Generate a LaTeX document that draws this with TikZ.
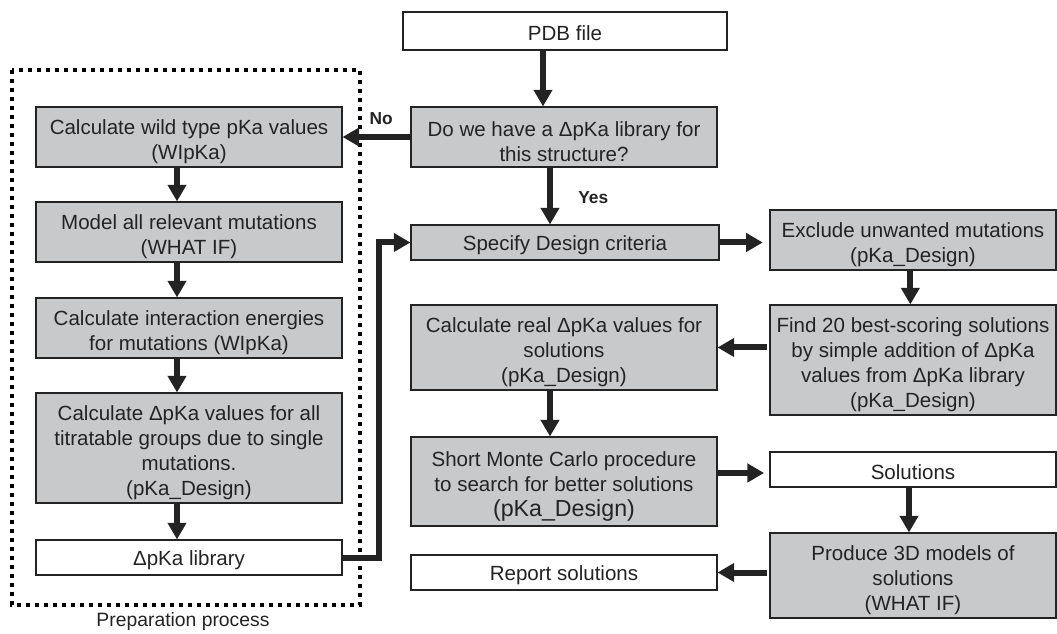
\documentclass[tikz,border=0pt]{standalone}
\usepackage{fontspec}
\setmainfont{Liberation Sans}
\usetikzlibrary{arrows.meta}
\definecolor{boxgray}{RGB}{200,201,203}
\definecolor{inkgray}{RGB}{35,35,35}
\newcommand{\topgap}{\rule{0pt}{18pt}}

\begin{document}
\begin{tikzpicture}[x=0.75pt, y=-0.75pt,
    every node/.style={font=\fontsize{15.4}{18.75}\selectfont, text=inkgray, align=center, inner sep=0pt},
    greybox/.style={draw=inkgray, line width=0.8pt, fill=boxgray},
    whitebox/.style={draw=inkgray, line width=0.8pt, fill=white},
    oneline/.style={execute at begin node={\rule{0pt}{15pt}}},
    wide/.style={minimum width=229.5pt},
    narrow/.style={minimum width=214.5pt},
    flow/.style={-{Triangle[length=12.5pt,width=13.5pt]}, line width=4.5pt, draw=inkgray},
    answer/.style={font=\fontsize{13}{15}\selectfont\bfseries}]
    \useasboundingbox (0,0) rectangle (1057,634);

    % preparation process
    \draw[line width=3pt, dash pattern=on 3pt off 3.75pt] (12,70) rectangle (360,605);
    \node (prep) at (183,622) {\fontsize{14.5}{17}\selectfont Preparation process};

    \node[greybox,wide,minimum height=45pt]   (wild)    at (189,137)   {\topgap Calculate wild type pKa values\\(WIpKa)};
    \node[greybox,wide,minimum height=45pt]   (model)   at (189,232)   {\topgap Model all relevant mutations\\(WHAT IF)};
    \node[greybox,wide,minimum height=45pt]   (inter)   at (189,328)   {\topgap Calculate interaction energies\\for mutations (WIpKa)};
    \node[greybox,wide,minimum height=82.5pt] (dpka)    at (189,448)   {\topgap Calculate ΔpKa values for all\\titratable groups due to single\\mutations.\\(pKa\_Design)};
    \node[whitebox,oneline,wide,minimum height=26.25pt] (library) at (189,557.5) {ΔpKa library};

    % main column
    \node[whitebox,oneline,minimum width=243pt,minimum height=28.5pt] (pdb) at (565,31) {PDB file};
    \node[greybox,wide,minimum height=45pt]   (question) at (564,137)   {\topgap Do we have a ΔpKa library for\\this structure?};
    \node[greybox,oneline,minimum width=231pt,minimum height=26.25pt] (specify) at (565,242.5) {Specify Design criteria};
    \node[greybox,wide,minimum height=63.75pt] (real)    at (564,347.5) {\topgap Calculate real ΔpKa values for\\solutions\\(pKa\_Design)};
    \node[greybox,wide,minimum height=66.75pt] (monte)   at (564,481.5) {\topgap Short Monte Carlo procedure\\to search for better solutions\\{\fontsize{17.4}{20}\selectfont(pKa\_Design)}};
    \node[whitebox,oneline,wide,minimum height=26.25pt] (report) at (564,572.5) {Report solutions};

    % right column
    \node[greybox,narrow,minimum height=45pt]   (exclude)   at (913,240)   {\topgap Exclude unwanted mutations\\(pKa\_Design)};
    \node[greybox,narrow,minimum height=82.5pt] (best)      at (913,360)   {\topgap Find 20 best-scoring solutions\\by simple addition of ΔpKa\\values from ΔpKa library\\(pKa\_Design)};
    \node[whitebox,oneline,narrow,minimum height=26.25pt] (solutions) at (913,469.5) {Solutions};
    \node[greybox,narrow,minimum height=63.75pt] (produce)  at (913,575.5) {\topgap Produce 3D models of\\solutions\\(WHAT IF)};

    \draw[flow] ([xshift=-9pt]wild.south)  -- ([xshift=-9pt]model.north);
    \draw[flow] ([xshift=-9pt]model.south) -- ([xshift=-9pt]inter.north);
    \draw[flow] ([xshift=-9pt]inter.south) -- ([xshift=-9pt]dpka.north);
    \draw[flow] ([xshift=-9pt]dpka.south)  -- ([xshift=-9pt]library.north);

    \draw[flow] ([xshift=-16.5pt]pdb.south) -- ([xshift=-15.75pt]question.north);
    \draw[flow] ([xshift=-10.5pt]question.south) -- ([xshift=-11.25pt]specify.north)
        node[answer, pos=0.53, right=19pt] (yes) {Yes};
    \draw[flow] (question.west) -- (wild.east)
        node[answer, pos=0.43, above=7pt] (no) {No};
    \draw[flow] ([xshift=0.5pt]library.east) -| ++(36,0) |- (specify.west);

    \draw[flow, shorten >=5pt] (specify.east) -- (specify.east -| exclude.west);
    \draw[flow] ([xshift=-2pt]exclude.south) -- ([xshift=-2pt]best.north);
    \draw[flow, shorten <=2pt] (best.west |- real.east) -- (real.east);
    \draw[flow] ([xshift=-10.5pt]real.south) -- ([xshift=-10.5pt]monte.north);
    \draw[flow, shorten >=4pt] ([yshift=6.4pt]monte.east) -- ([yshift=6.4pt]monte.east -| solutions.west);
    \draw[flow] ([xshift=-3pt]solutions.south) -- ([xshift=-3pt]produce.north);
    \draw[flow, shorten <=2pt] (produce.west |- report.east) -- (report.east);
\end{tikzpicture}
\end{document}
